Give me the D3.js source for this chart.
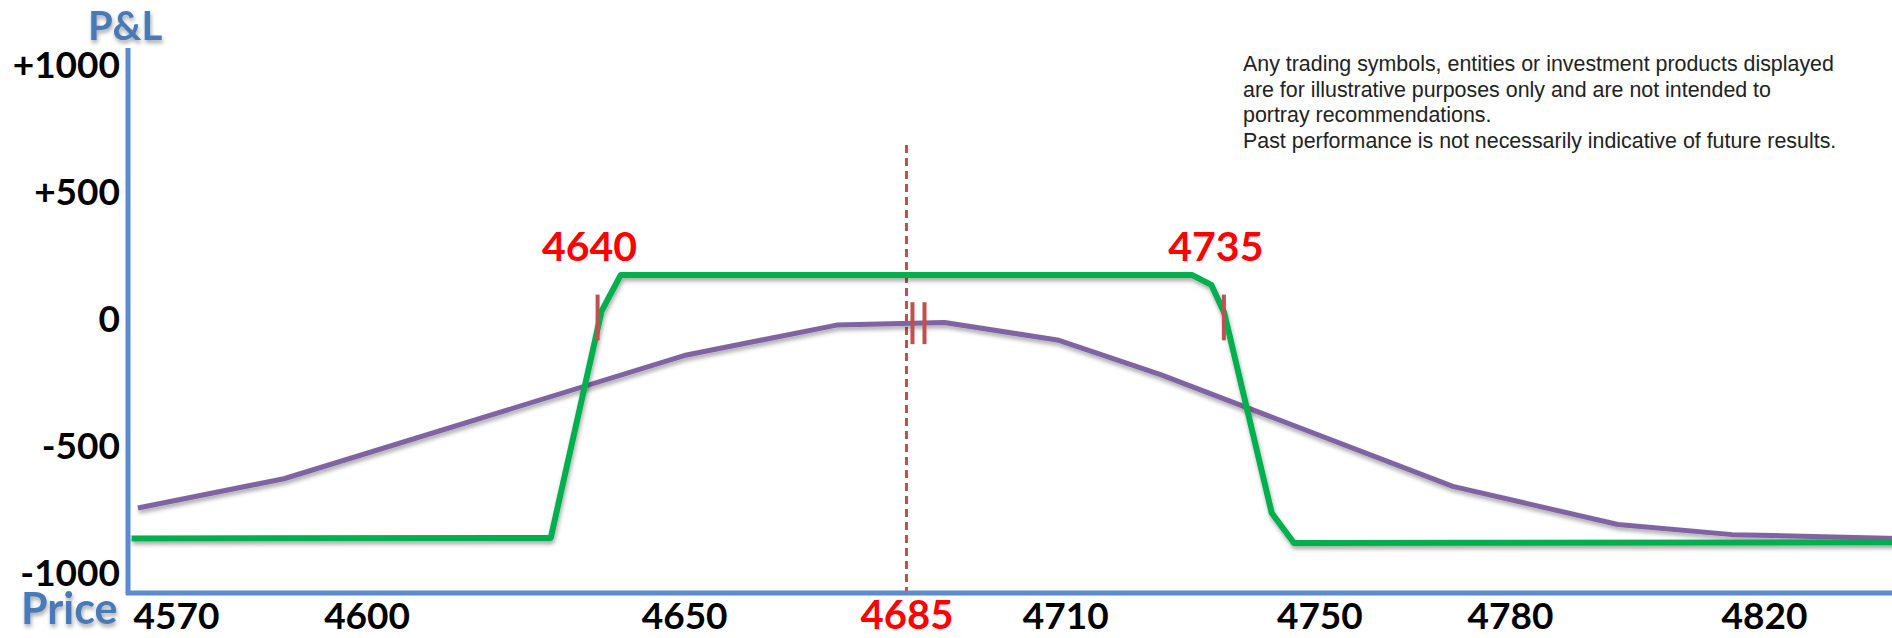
<!DOCTYPE html>
<html>
<head>
<meta charset="utf-8">
<script src="https://cdn.jsdelivr.net/npm/d3@7"></script>
<style>
  body { margin: 0; background: #fff; }
  svg { display: block; }
</style>
</head>
<body>
<script>
var width = 1892, height = 638

// price axis ticks and P&L ticks
var xTicks = [4570, 4600, 4650, 4685, 4710, 4750, 4780, 4820]
var yTicks = [1000, 500, 0, -500, -1000]
var yTickLabels = ["+1000", "+500", "0", "-500", "-1000"]

// strikes and current price
var strikes = [4640, 4735]
var currentPrice = 4685

// green line (at expiry)
var greenPrice = [4563, 4629, 4637, 4640, 4730, 4733, 4735, 4742.5, 4746, 4840.5]
var greenPnl   = [-860, -858, 35, 177, 177, 138, 30, -760, -878, -875]

// purple line (today)
var purplePrice = [4564, 4587, 4650, 4674, 4691, 4709, 4725, 4771, 4797, 4815, 4841]
var purplePnl   = [-740, -625, -140, -20, -10, -80, -215, -655, -805, -845, -860]

var disclaimer = [
  "Any trading symbols, entities or investment products displayed",
  "are for illustrative purposes only and are not intended to",
  "portray recommendations.",
  "Past performance is not necessarily indicative of future results."
]

var axisX = 128, axisY = 593

var svg = d3.select("body").append("svg")
    .attr("width", width)
    .attr("height", height)

var defs = svg.append("defs")
defs.append("filter").attr("id", "shadow")
    .attr("x", "-5%").attr("y", "-20%").attr("width", "110%").attr("height", "160%")
  .append("feDropShadow")
    .attr("dx", 1).attr("dy", 3).attr("stdDeviation", 2)
    .attr("flood-color", "#000").attr("flood-opacity", 0.35)

var x = d3.scaleLinear().domain([4570, 4820]).range([176, 1764])
var y = d3.scaleLinear().domain([-1000, 1000]).range([574, 66])

// where the green line crosses zero, near each strike
function breakeven(strike) {
  var best = null
  for (var i = 0; i < greenPrice.length - 1; i++) {
    var a = greenPnl[i], b = greenPnl[i + 1]
    if ((a <= 0 && b >= 0) || (a >= 0 && b <= 0)) {
      var p = greenPrice[i] + (greenPrice[i + 1] - greenPrice[i]) * (0 - a) / (b - a)
      if (best == null || Math.abs(p - strike) < Math.abs(best - strike)) best = p
    }
  }
  return best
}

// y axis labels
var yAxis = d3.axisLeft(y)
    .tickValues(yTicks)
    .tickSize(0)
    .tickPadding(8)
    .tickFormat(function(d, i) { return yTickLabels[i] })

svg.append("g")
    .attr("transform", "translate(" + axisX + ",0)")
    .call(yAxis)
    .call(function(g) { g.select(".domain").remove() })
    .selectAll("text")
    .attr("font-family", "Lato, sans-serif")
    .attr("font-weight", "bold")
    .attr("font-size", 37)
    .attr("fill", "#000")

// x axis labels
var xAxis = d3.axisBottom(x)
    .tickValues(xTicks)
    .tickSize(0)
    .tickFormat(d3.format("d"))

svg.append("g")
    .attr("transform", "translate(0," + axisY + ")")
    .call(xAxis)
    .call(function(g) { g.select(".domain").remove() })
    .selectAll("text")
    .attr("y", 36)
    .attr("dy", 0)
    .attr("font-family", "Lato, sans-serif")
    .attr("font-weight", "bold")
    .attr("font-size", function(d) { return d == currentPrice ? 40 : 37 })
    .attr("fill", function(d) { return d == currentPrice ? "#ff0000" : "#000" })

// axis lines
svg.append("line")
    .attr("x1", axisX).attr("x2", axisX)
    .attr("y1", 48).attr("y2", axisY + 2)
    .attr("stroke", "#5b8bd0").attr("stroke-width", 5)
svg.append("line")
    .attr("x1", axisX - 2).attr("x2", width)
    .attr("y1", axisY).attr("y2", axisY)
    .attr("stroke", "#5b8bd0").attr("stroke-width", 5)

// axis titles
svg.append("text")
    .attr("x", 88).attr("y", 40)
    .attr("font-family", "Lato, sans-serif")
    .attr("font-weight", "bold")
    .attr("font-size", 40)
    .attr("fill", "#4a7ab8")
    .attr("filter", "url(#shadow)")
    .text("P&L")
svg.append("text")
    .attr("x", 21).attr("y", 624)
    .attr("font-family", "Lato, sans-serif")
    .attr("font-weight", "bold")
    .attr("font-size", 43)
    .attr("fill", "#4a7ab8")
    .attr("filter", "url(#shadow)")
    .text("Price")

// current price dashed line
svg.append("line")
    .attr("x1", x(currentPrice)).attr("x2", x(currentPrice))
    .attr("y1", 145).attr("y2", axisY - 2)
    .attr("stroke", "#c0504d").attr("stroke-width", 3)
    .attr("stroke-dasharray", "8,5")

var line = d3.line()
    .x(function(d) { return x(d[0]) })
    .y(function(d) { return y(d[1]) })

svg.append("path")
    .datum(d3.zip(purplePrice, purplePnl))
    .attr("fill", "none")
    .attr("stroke", "#8064a2")
    .attr("stroke-width", 5)
    .attr("stroke-linejoin", "round")
    .attr("filter", "url(#shadow)")
    .attr("d", line)

svg.append("path")
    .datum(d3.zip(greenPrice, greenPnl))
    .attr("fill", "none")
    .attr("stroke", "#00b050")
    .attr("stroke-width", 6)
    .attr("stroke-linejoin", "round")
    .attr("filter", "url(#shadow)")
    .attr("d", line)

// strike markers and labels, on the break-even points
svg.selectAll(".strikeMark")
    .data(strikes)
  .enter().append("line")
    .attr("x1", function(d) { return x(breakeven(d)) - 2 })
    .attr("x2", function(d) { return x(breakeven(d)) - 2 })
    .attr("y1", y(100)).attr("y2", y(-80))
    .attr("stroke", "#c0504d").attr("stroke-width", 4)

svg.selectAll(".strikeLabel")
    .data(strikes)
  .enter().append("text")
    .attr("x", function(d) { return x(breakeven(d)) - 10 })
    .attr("y", 261)
    .attr("text-anchor", "middle")
    .attr("font-family", "Lato, sans-serif")
    .attr("font-weight", "bold")
    .attr("font-size", 41)
    .attr("fill", "#ff0000")
    .text(function(d) { return d })

// current price marker ||
svg.selectAll(".nowMark")
    .data([0, 1])
  .enter().append("line")
    .attr("x1", function(d) { return x(currentPrice) + 6 + d * 12 })
    .attr("x2", function(d) { return x(currentPrice) + 6 + d * 12 })
    .attr("y1", y(70)).attr("y2", y(-95))
    .attr("stroke", "#c0504d").attr("stroke-width", 4)

// disclaimer
svg.append("text")
    .attr("font-family", "Liberation Sans, Arial, sans-serif")
    .attr("font-size", 21.4)
    .attr("fill", "#222")
  .selectAll("tspan")
    .data(disclaimer)
  .enter().append("tspan")
    .attr("x", 1243)
    .attr("y", function(d, i) { return 71 + i * 25.5 })
    .text(function(d) { return d })
</script>
</body>
</html>
